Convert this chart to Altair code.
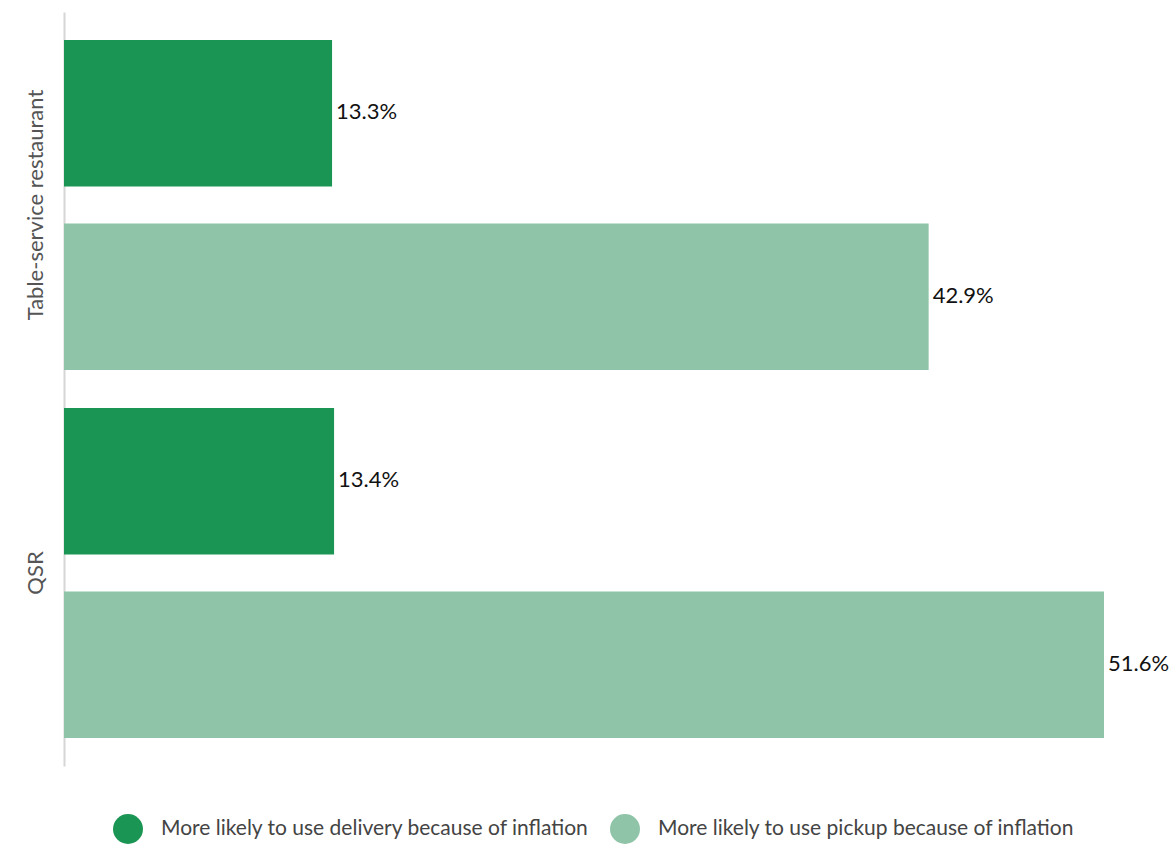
import altair as alt
import pandas as pd

categories = ["Table-service restaurant", "Table-service restaurant", "QSR", "QSR"]
series = [
    "More likely to use delivery because of inflation",
    "More likely to use pickup because of inflation",
    "More likely to use delivery because of inflation",
    "More likely to use pickup because of inflation",
]
values = [13.3, 42.9, 13.4, 51.6]
labels = ["13.3%", "42.9%", "13.4%", "51.6%"]

cat_order = ["Table-service restaurant", "QSR"]
series_order = [
    "More likely to use delivery because of inflation",
    "More likely to use pickup because of inflation",
]
colors = ["#1B9553", "#8FC4A8"]

df = pd.DataFrame({"cat": categories, "series": series, "value": values, "label": labels})

y = alt.Y("cat:N", sort=cat_order, title=None,
          scale=alt.Scale(paddingInner=0.1035, paddingOuter=0.0763),
          axis=alt.Axis(labelAngle=270, labelAlign="center", labelBaseline="bottom",
                        labelPadding=17, labelFontSize=22, labelColor="#555555",
                        labelFont="Lato", labelLimit=1000, ticks=False,
                        domainColor="#d6d6d6", domainWidth=2))
yoff = alt.YOffset("series:N", sort=series_order,
                   scale=alt.Scale(paddingInner=0.2022, paddingOuter=0))
x = alt.X("value:Q", scale=alt.Scale(domain=[0, 51.6], nice=False), axis=None)

bars = alt.Chart(df).mark_bar().encode(
    x=x, y=y, yOffset=yoff,
    color=alt.Color("series:N", sort=series_order,
                    scale=alt.Scale(domain=series_order, range=colors),
                    legend=alt.Legend(title=None, orient="none", legendX=49, legendY=802,
                                      direction="horizontal", symbolType="circle",
                                      symbolSize=900, symbolStrokeWidth=0,
                                      labelFontSize=21, labelFont="Lato",
                                      labelColor="#444444", labelLimit=1000,
                                      labelOffset=18, columnPadding=20)),
)

text = alt.Chart(df).mark_text(align="left", baseline="middle", dx=4, dy=-1, fontSize=22,
                               font="Lato", color="#111111").encode(
    x=x, y=y, yOffset=yoff, text="label:N"
)

chart = (bars + text).properties(
    width=1040, height=754, autosize="none",
    padding={"left": 64, "top": 12, "right": 68, "bottom": 79},
).configure_view(stroke=None)

chart.save("out.html", embed_options={"renderer": "svg", "actions": False})
